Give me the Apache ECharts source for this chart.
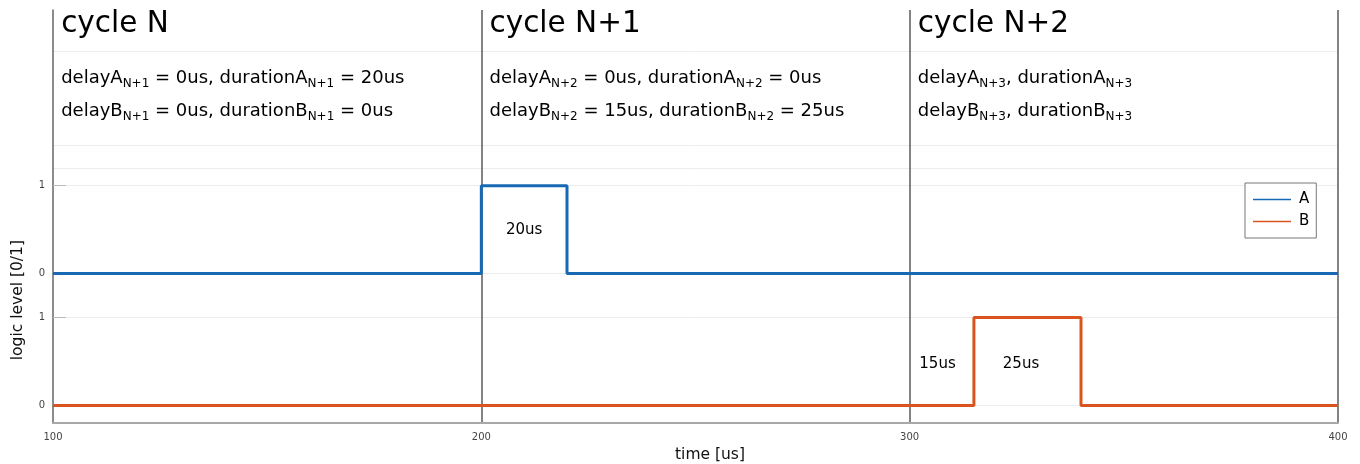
<!DOCTYPE html>
<html>
<head>
<meta charset="utf-8">
<script src="https://cdn.jsdelivr.net/npm/echarts@6/dist/echarts.min.js"></script>
<style>
html,body{margin:0;padding:0;background:#fff;}
#chart{width:1360px;height:464px;}
</style>
</head>
<body>
<div id="chart"></div>
<script>
// ---- data ----
const timeA = [100, 200, 220, 400];
const levelA = [0, 1, 0, 0];
const timeB = [100, 315, 340, 400];
const levelB = [0, 1, 0, 0];
const xTicks = [100, 200, 300, 400];
const cycleStarts = [100, 200, 300];
const cycleBoundaries = [200, 300, 400];
const cycleTitles = ['cycle N', 'cycle N+1', 'cycle N+2'];
const paramLineA = [
  'delayA_{N+1} = 0us, durationA_{N+1} = 20us',
  'delayA_{N+2} = 0us, durationA_{N+2} = 0us',
  'delayA_{N+3}, durationA_{N+3}'
];
const paramLineB = [
  'delayB_{N+1} = 0us, durationB_{N+1} = 0us',
  'delayB_{N+2} = 15us, durationB_{N+2} = 25us',
  'delayB_{N+3}, durationB_{N+3}'
];
const pulseLabelText = ['20us', '15us', '25us'];
const pulseLabelTime = [210, 306.5, 326];
const pulseLabelTrack = ['A', 'B', 'B'];
const pulseLabelLevel = [0.5, 0.47, 0.47];
const yTickLabels = ['0', '1', '0', '1'];
const yTickLevels = [0, 1, 0, 1];
const yTickTracks = ['B', 'B', 'A', 'A'];
const gridLevels = [0, 1, 1.5, 2.5, 2.7, 2.96, 4.03];

// ---- layout helpers ----
const trackOffset = { A: 1.5, B: 0 };
const FONT = 'DejaVu Sans';
const textDx = 1.9;
const yTitle = 4.34, yLine1 = 3.72, yLine2 = 3.345;

function toRich(s) {
  const parts = [];
  const re = /_\{([^}]*)\}/g;
  let last = 0, m;
  while ((m = re.exec(s)) !== null) {
    if (m.index > last) parts.push('{t|' + s.slice(last, m.index) + '}');
    parts.push('{s|' + m[1] + '}');
    last = re.lastIndex;
  }
  if (last < s.length) parts.push('{t|' + s.slice(last) + '}');
  return parts.join('');
}

const yTickValues = yTickLevels.map((v, i) => v + trackOffset[yTickTracks[i]]);
const tickLabelMap = {};
yTickValues.forEach((v, i) => { tickLabelMap[v] = yTickLabels[i]; });

const annData = [];
cycleStarts.forEach((c, i) => {
  annData.push({ value: [c + textDx, yTitle], label: { formatter: '{h|' + cycleTitles[i] + '}' } });
  annData.push({ value: [c + textDx, yLine1], label: { formatter: toRich(paramLineA[i]) } });
  annData.push({ value: [c + textDx, yLine2], label: { formatter: toRich(paramLineB[i]) } });
});
pulseLabelText.forEach((t, i) => {
  annData.push({ value: [pulseLabelTime[i], pulseLabelLevel[i] + trackOffset[pulseLabelTrack[i]]],
    label: { formatter: '{p|' + t + '}', position: 'inside' } });
});

const chart = echarts.init(document.getElementById('chart'), null, { renderer: 'canvas' });
const option = {
  animation: false,
  backgroundColor: '#ffffff',
  textStyle: { fontFamily: FONT },
  grid: { left: 53, right: 22, top: 10, bottom: 41, containLabel: false, outerBoundsMode: 'none' },
  legend: {
    orient: 'vertical',
    left: 1245, top: 183,
    padding: [9, 7, 9, 8],
    itemGap: 7,
    itemWidth: 38, itemHeight: 1.5,
    icon: 'rect',
    backgroundColor: '#fff',
    borderColor: '#777', borderWidth: 1, borderRadius: 0,
    textStyle: { fontSize: 15, color: '#000', fontFamily: FONT, padding: [0, 0, 0, 3] },
    data: ['A', 'B']
  },
  xAxis: {
    type: 'value', min: 100, max: 400, interval: 100, z: 2,
    name: 'time [us]', nameLocation: 'middle', nameGap: 18,
    nameTextStyle: { fontSize: 15.5, color: '#111', fontFamily: FONT, padding: [0, 0, 0, 29], verticalAlign: 'top' },
    axisLine: { show: true, onZero: false, lineStyle: { color: '#a8a8a8', width: 2 } },
    axisTick: { show: false },
    axisLabel: { fontSize: 10, color: '#444', margin: 9, fontFamily: FONT },
    splitLine: { show: false }
  },
  yAxis: {
    type: 'value', min: -0.2, max: 4.5, z: 2,
    axisLine: { show: true, onZero: false, lineStyle: { color: '#666', width: 1.5 } },
    axisTick: { show: true, inside: true, length: 13, customValues: yTickValues, lineStyle: { color: '#bbb', width: 1 } },
    axisLabel: { customValues: yTickValues, fontSize: 10, color: '#444', margin: 8, fontFamily: FONT,
      formatter: v => tickLabelMap[v] !== undefined ? tickLabelMap[v] : '' },
    splitLine: { show: false }
  },
  graphic: [{
    type: 'text', left: 10, top: 240, rotation: Math.PI / 2,
    style: { text: 'logic level [0/1]', fontSize: 15.5, fill: '#111', fontFamily: FONT }
  }],
  series: [
    {
      name: '_grid', type: 'line', data: [], silent: true, z: 1,
      markLine: {
        silent: true, symbol: ['none', 'none'], animation: false, z: 1,
        label: { show: false },
        lineStyle: { color: '#ececec', width: 1, type: 'solid' },
        data: gridLevels.map(v => ({ yAxis: v }))
      }
    },
    {
      name: 'A', type: 'line', step: 'end', showSymbol: false, symbol: 'none', z: 3,
      color: '#1769b3',
      lineStyle: { width: 3, color: '#1769b3' },
      data: timeA.map((t, i) => [t, levelA[i] + trackOffset.A])
    },
    {
      name: 'B', type: 'line', step: 'end', showSymbol: false, symbol: 'none', z: 3,
      color: '#d9541f',
      lineStyle: { width: 3, color: '#d9541f' },
      data: timeB.map((t, i) => [t, levelB[i] + trackOffset.B])
    },
    {
      name: '_vlines', type: 'line', data: [], silent: true, z: 2,
      markLine: {
        silent: true, symbol: ['none', 'none'], animation: false, z: 2,
        label: { show: false },
        lineStyle: { color: '#5a5a5a', width: 1.5, type: 'solid' },
        data: cycleBoundaries.map(v => ({ xAxis: v }))
      }
    },
    {
      name: '_ann', type: 'scatter', symbolSize: 0, silent: true, z: 5,
      itemStyle: { opacity: 1 },
      data: annData,
      label: {
        show: true, position: 'right', distance: 0, opacity: 1,
        color: '#000', fontFamily: FONT,
        rich: {
          h: { fontSize: 29.5, color: '#000', fontFamily: FONT },
          t: { fontSize: 18, lineHeight: 24, color: '#000', fontFamily: FONT },
          s: { fontSize: 12, lineHeight: 14, padding: [10, 0, 0, 0], color: '#000', fontFamily: FONT },
          p: { fontSize: 15, color: '#000', fontFamily: FONT }
        }
      }
    }
  ]
};
chart.setOption(option);
</script>
</body>
</html>
